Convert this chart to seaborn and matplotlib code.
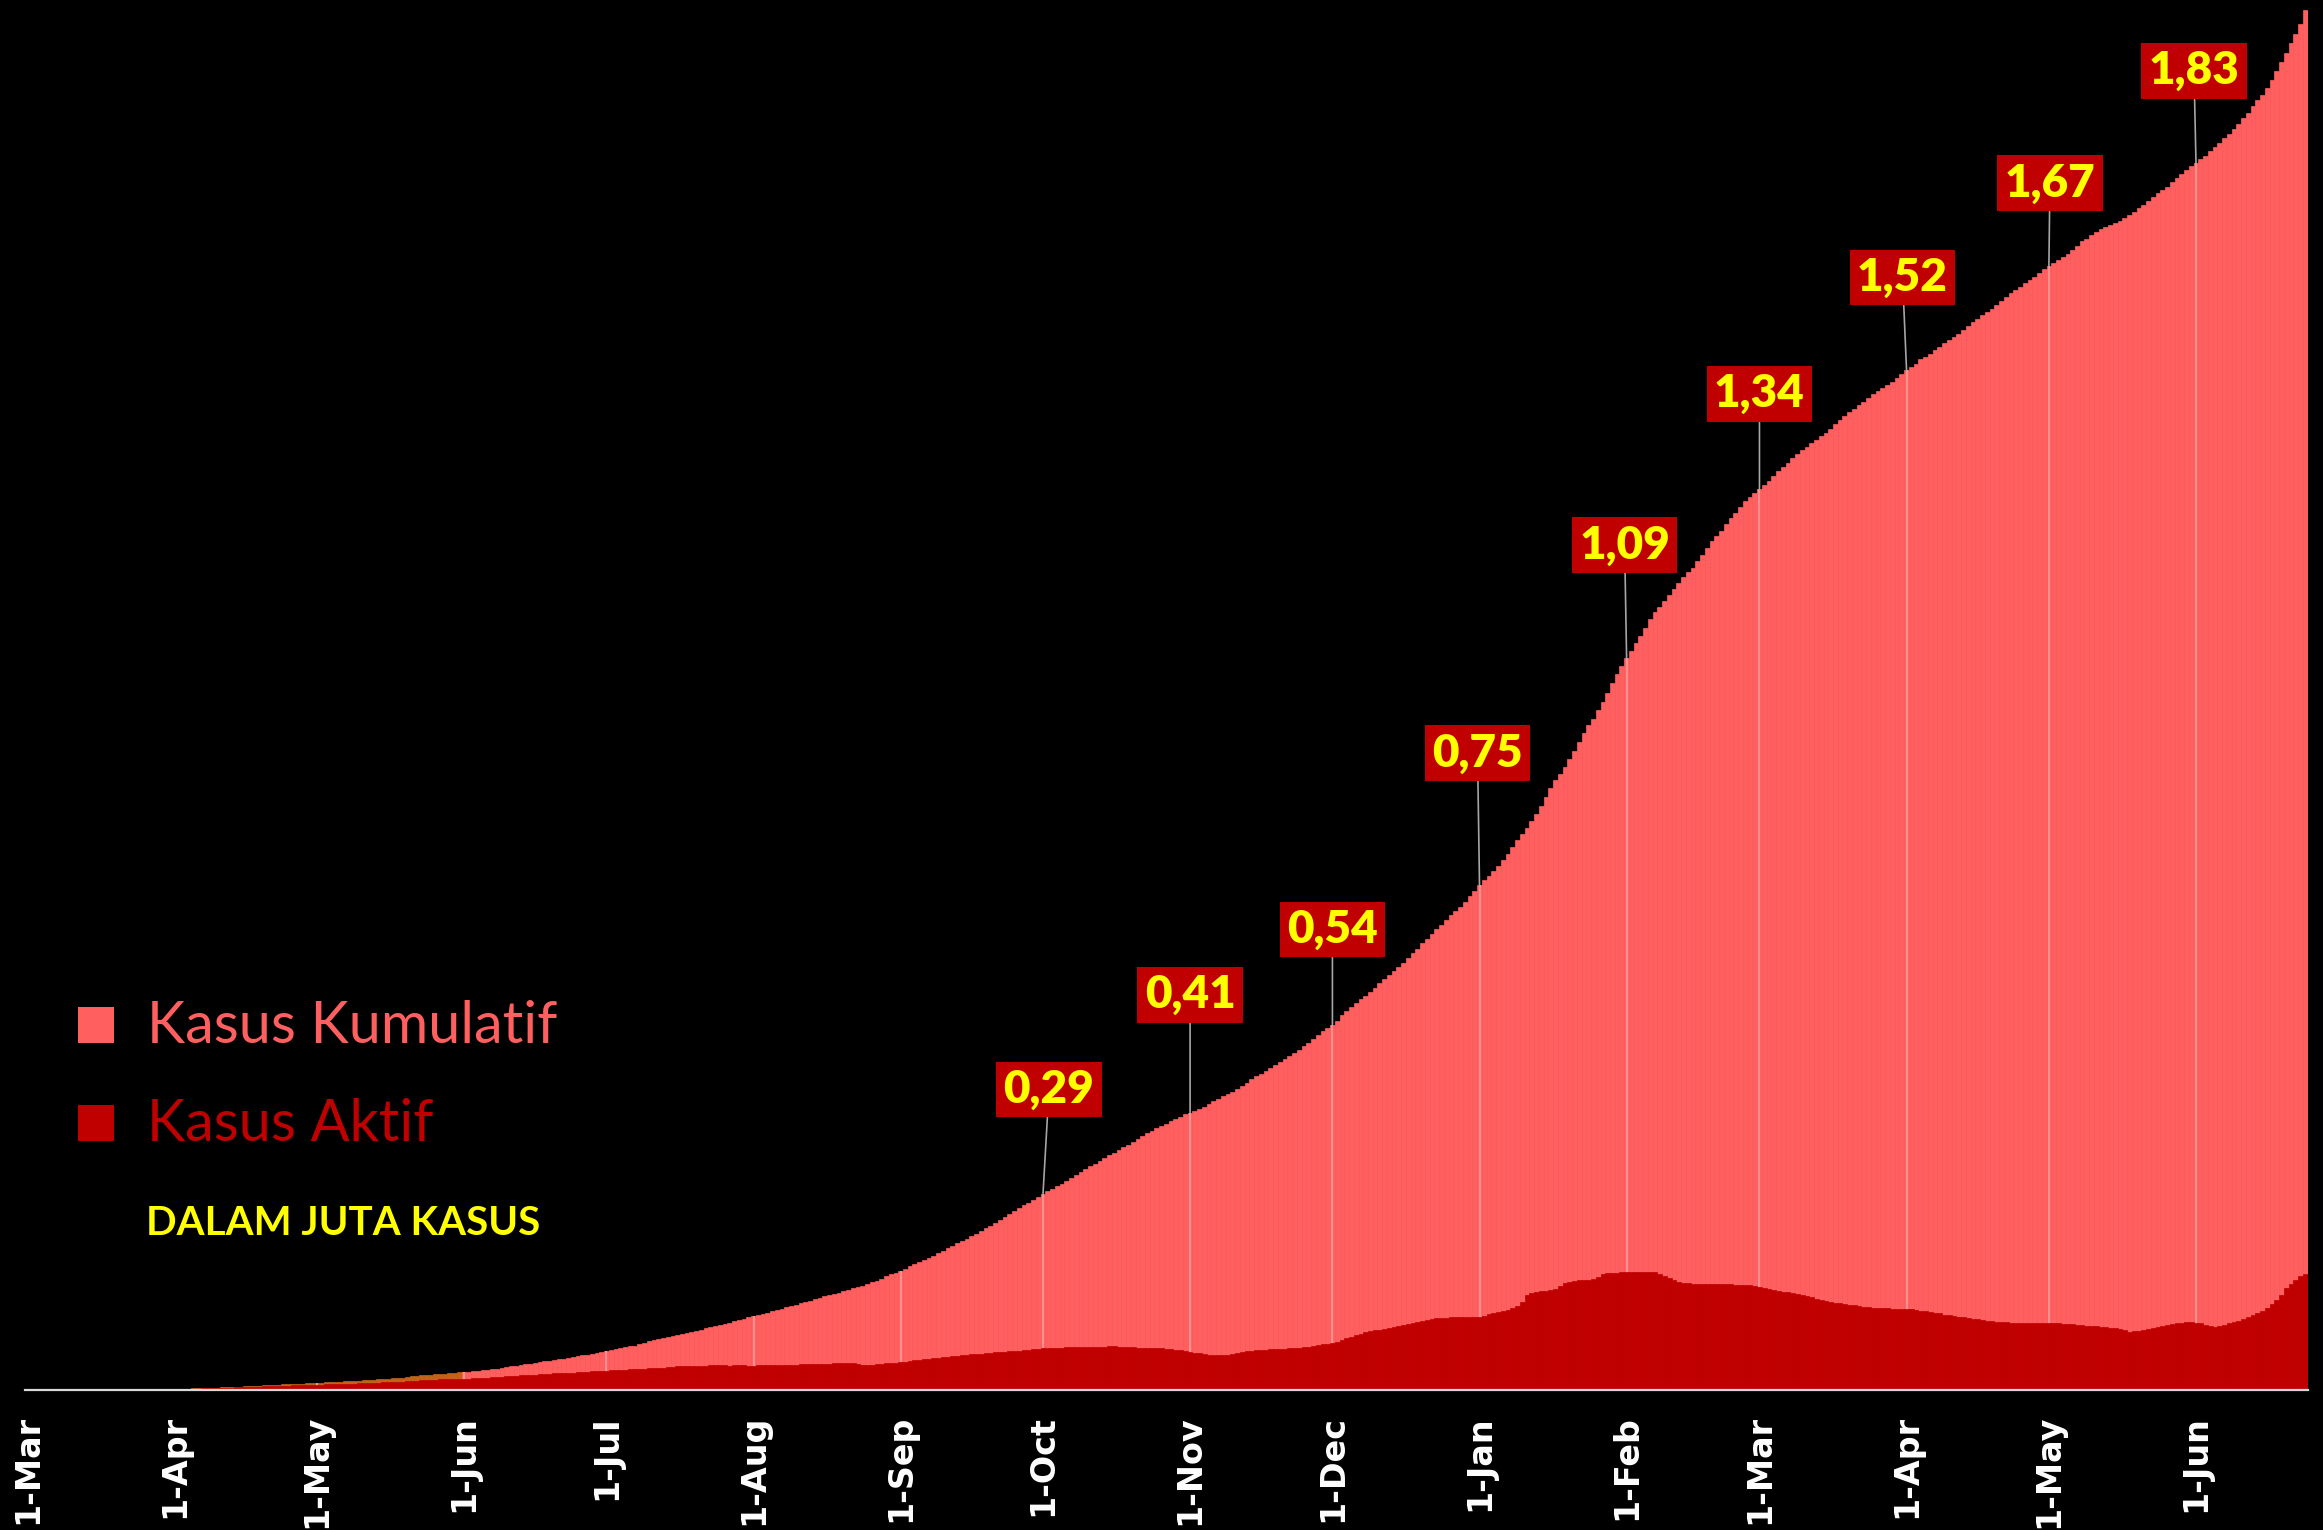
import numpy as np
import pandas as pd
import matplotlib
matplotlib.use("Agg")
import matplotlib.pyplot as plt
from matplotlib.patches import Rectangle
import seaborn as sns

# Kasus kumulatif harian (ribu), 1 Mar 2020 - 24 Jun 2021
KUM_2020_03 = [0, 0.002, 0.002, 0.002, 0.002, 0.004, 0.004, 0.006, 0.019, 0.027, 0.034, 0.034, 0.069, 0.096, 0.117, 0.134,
               0.172, 0.227, 0.309, 0.369, 0.450, 0.514, 0.579, 0.686, 0.790, 0.893, 1.046, 1.155, 1.285, 1.414, 1.528]
KUM_2020_04 = [1.7, 1.8, 2.0, 2.1, 2.3, 2.5, 2.7, 2.9, 3.3, 3.5, 3.8, 4.2, 4.6, 4.8, 5.1, 5.5, 5.9, 6.2, 6.6, 6.8,
               7.1, 7.4, 7.8, 8.2, 8.6, 8.9, 9.1, 9.5, 9.8, 10.1]
KUM_2020_05 = [10.6, 10.8, 11.2, 11.6, 12.1, 12.4, 12.8, 13.1, 13.6, 14.0, 14.3, 14.7, 15.4, 16.0, 16.5, 17.0, 17.5, 18.0,
               18.5, 19.2, 20.2, 20.8, 21.7, 22.3, 22.8, 23.2, 23.9, 24.5, 25.2, 25.8, 26.5]
KUM_2020_06 = [27.0, 27.5, 28.2, 28.8, 29.5, 30.5, 31.2, 32.0, 33.1, 34.3, 35.3, 36.4, 37.4, 38.3, 39.3, 40.4, 41.4, 42.8,
               43.8, 45.0, 45.9, 46.8, 47.9, 49.0, 50.2, 51.4, 52.8, 54.0, 55.1, 56.4]
KUM_2020_07 = [57.8, 59.4, 60.7, 62.1, 63.7, 64.9, 66.2, 68.1, 70.7, 72.3, 74.0, 75.7, 76.9, 78.6, 80.1, 81.7, 84.0, 85.0,
               86.5, 88.2, 89.9, 91.8, 93.7, 95.4, 97.3, 98.8, 100.3, 102.1, 104.4, 106.3, 108.4]
KUM_2020_08 = [109.9, 111.5, 113.1, 115.1, 116.9, 118.8, 121.2, 123.5, 125.4, 127.1, 128.8, 130.7, 132.8, 135.1, 137.5,
               139.5, 141.4, 143.0, 144.9, 147.2, 149.4, 151.5, 153.1, 155.4, 157.9, 160.2, 162.9, 165.9, 169.2, 172.1, 174.8]
KUM_2020_09 = [177.6, 180.6, 184.3, 187.5, 190.7, 194.1, 196.9, 200.0, 203.3, 207.2, 210.9, 214.7, 218.4, 221.5, 225.0,
               228.9, 232.6, 236.5, 240.7, 244.7, 248.9, 252.9, 257.4, 262.0, 266.8, 271.3, 275.2, 278.7, 282.7, 287.0]
KUM_2020_10 = [291.2, 295.5, 299.5, 304.0, 307.1, 311.2, 315.7, 320.6, 324.7, 328.9, 333.4, 336.7, 340.6, 344.7, 349.2,
               353.5, 357.8, 361.9, 365.2, 368.8, 373.1, 377.5, 381.9, 385.9, 389.7, 393.0, 396.5, 400.5, 404.0, 406.9, 410.1]
KUM_2020_11 = [412.8, 415.4, 418.4, 421.7, 425.8, 429.6, 433.8, 437.7, 440.6, 444.3, 448.1, 452.3, 457.7, 463.0, 467.1,
               470.6, 474.5, 478.7, 483.5, 488.3, 493.3, 497.7, 502.1, 506.3, 511.8, 516.8, 522.6, 527.9, 534.3, 538.9]
KUM_2020_12 = [543.9, 549.5, 557.9, 563.7, 569.7, 575.8, 581.6, 586.8, 592.9, 598.9, 605.2, 611.6, 617.8, 623.3, 629.4,
               636.2, 643.5, 650.2, 657.0, 664.9, 671.8, 678.1, 685.6, 692.8, 700.1, 706.8, 713.4, 719.2, 727.1, 735.1, 743.2]
KUM_2021_01 = [751.3, 758.5, 765.4, 772.1, 779.5, 788.4, 797.7, 808.3, 818.4, 828.0, 836.7, 846.8, 858.0, 869.6, 882.4,
               896.6, 907.9, 917.0, 927.4, 939.9, 951.7, 965.3, 977.5, 989.3, 999.3, 1012.4, 1024.3, 1037.0, 1051.8,
               1066.3, 1078.3]
KUM_2021_02 = [1089.3, 1099.7, 1111.7, 1123.1, 1134.9, 1147.0, 1157.8, 1166.1, 1174.8, 1183.6, 1191.9, 1201.9, 1210.7,
               1217.5, 1223.9, 1233.9, 1243.6, 1252.7, 1263.3, 1271.4, 1278.7, 1288.8, 1298.6, 1306.1, 1314.6, 1322.9,
               1329.1, 1334.6]
KUM_2021_03 = [1341.3, 1347.0, 1353.8, 1361.1, 1368.1, 1373.8, 1379.7, 1386.6, 1392.9, 1398.6, 1403.7, 1410.1, 1414.7,
               1419.5, 1425.0, 1430.4, 1437.3, 1443.9, 1450.1, 1455.8, 1460.2, 1465.9, 1471.2, 1476.5, 1482.6, 1487.5,
               1492.0, 1496.0, 1501.1, 1505.8, 1511.7]
KUM_2021_04 = [1517.7, 1523.2, 1527.5, 1534.3, 1537.3, 1542.5, 1547.4, 1552.9, 1558.1, 1562.9, 1566.9, 1571.8, 1577.5,
               1583.2, 1589.4, 1594.7, 1599.8, 1604.3, 1609.3, 1614.8, 1620.6, 1626.8, 1632.2, 1636.8, 1641.2, 1647.1,
               1651.8, 1657.0, 1662.9, 1668.4]
KUM_2021_05 = [1672.9, 1677.3, 1682.0, 1686.4, 1691.7, 1697.3, 1703.6, 1709.8, 1713.7, 1718.6, 1723.6, 1728.2, 1731.7,
               1734.3, 1736.7, 1739.8, 1744.0, 1748.9, 1753.1, 1758.9, 1764.6, 1769.9, 1775.2, 1781.8, 1786.2, 1791.2,
               1797.5, 1803.4, 1809.9, 1816.0, 1821.7]
KUM_2021_06 = [1826.5, 1831.8, 1837.1, 1843.6, 1850.2, 1856.0, 1863.8, 1869.3, 1877.0, 1885.0, 1894.0, 1901.5, 1911.4,
               1919.5, 1927.7, 1937.7, 1950.3, 1963.3, 1976.2, 1989.9, 2004.4, 2018.1, 2033.4, 2054.0]

# Kasus aktif harian (ribu)
AKT_2020_03 = [0, 0.002, 0.002, 0.002, 0.002, 0.004, 0.004, 0.006, 0.017, 0.025, 0.031, 0.031, 0.064, 0.087, 0.105, 0.119,
               0.153, 0.199, 0.275, 0.323, 0.396, 0.450, 0.498, 0.590, 0.671, 0.758, 0.899, 1.002, 1.114, 1.218, 1.311]
AKT_2020_04 = [1.4, 1.5, 1.7, 1.8, 1.9, 2.1, 2.3, 2.4, 2.7, 2.9, 3.1, 3.4, 3.7, 3.9, 4.1, 4.3, 4.6, 4.8, 5.1, 5.3,
               5.5, 5.7, 6.0, 6.3, 6.5, 6.7, 6.9, 7.1, 7.3, 7.4]
AKT_2020_05 = [7.8, 8.0, 8.2, 8.4, 8.7, 8.8, 9.0, 9.2, 9.5, 9.7, 9.9, 10.2, 10.6, 10.9, 11.3, 11.6, 11.8, 12.1, 12.5, 12.9,
               13.6, 14.0, 14.5, 14.9, 15.2, 15.4, 15.8, 16.1, 16.5, 16.7, 17.0]
AKT_2020_06 = [16.9, 17.0, 17.3, 17.6, 17.9, 18.4, 18.7, 19.2, 19.7, 20.3, 20.8, 21.3, 21.7, 22.0, 22.4, 22.9, 23.3, 23.9,
               24.2, 24.7, 25.0, 25.2, 25.6, 26.0, 26.4, 26.8, 27.3, 27.7, 27.9, 28.3]
AKT_2020_07 = [28.6, 29.2, 29.4, 29.8, 30.3, 30.7, 31.0, 31.4, 31.8, 32.1, 32.4, 32.8, 33.2, 33.8, 34.5, 35.2, 35.8, 36.1,
               36.3, 36.3, 36.4, 36.4, 36.5, 36.5, 36.6, 36.5, 36.4, 36.5, 36.6, 36.5, 36.4]
AKT_2020_08 = [36.4, 36.5, 36.6, 36.7, 36.8, 37.0, 37.2, 37.3, 37.6, 37.8, 38.0, 38.2, 38.5, 38.8, 39.0, 39.2, 39.4, 39.5,
               39.7, 39.9, 40.0, 40.1, 39.0, 37.5, 37.0, 37.2, 38.0, 38.8, 39.5, 40.2, 40.9]
AKT_2020_09 = [41.5, 42.3, 43.2, 44.0, 44.8, 45.6, 46.4, 47.2, 48.0, 48.8, 49.6, 50.4, 51.0, 51.7, 52.3, 52.9, 53.5, 54.1,
               54.7, 55.3, 55.9, 56.5, 57.0, 57.6, 58.1, 58.7, 59.3, 59.9, 60.5, 61.0]
AKT_2020_10 = [61.8, 62.2, 62.5, 62.8, 63.0, 63.3, 63.5, 63.6, 63.8, 64.0, 64.2, 64.3, 64.5, 64.6, 64.8, 65.0, 64.7, 64.2,
               63.8, 63.5, 63.2, 63.0, 62.8, 62.6, 62.4, 62.0, 61.5, 60.8, 59.8, 58.8, 57.8]
AKT_2020_11 = [56.8, 55.8, 54.6, 53.5, 52.8, 52.5, 52.4, 52.4, 52.6, 53.5, 55.5, 57.0, 58.0, 58.5, 59.0, 59.5, 60.0, 60.4,
               60.8, 61.2, 61.6, 62.0, 62.5, 63.0, 63.6, 64.5, 65.5, 66.8, 68.0, 69.0]
AKT_2020_12 = [70, 72, 74.5, 77, 79.5, 82, 84, 86, 87.5, 89, 90, 91, 92, 93.5, 95, 96.5, 98, 99.5, 101, 102.5,
               104, 105.5, 107, 107.5, 107.8, 108, 108, 108.2, 108.3, 108.5, 108.7]
AKT_2021_01 = [109, 110.5, 112.5, 114, 115.5, 117, 119, 122, 125, 131, 142, 144, 145.5, 147, 148, 149, 151, 155, 159, 161,
               162, 163, 163.5, 164, 164.5, 168, 172, 173.5, 174, 174.5, 175]
AKT_2021_02 = [175, 175.5, 176, 176, 176.2, 176, 175.5, 173, 170, 167, 163, 161, 160, 159, 158, 158, 158, 158, 158, 158.2,
               158, 157.5, 157.2, 157, 157, 156.5, 156, 155]
AKT_2021_03 = [154, 152, 150, 148.5, 147.5, 146.5, 145.5, 144.5, 143, 141.5, 140, 138, 136, 134, 132.5, 131, 130, 129,
               128, 127, 126, 125, 123.5, 123, 122.5, 122, 121.8, 121.5, 121.3, 121.1, 121]
AKT_2021_04 = [120.5, 120, 119, 118, 117, 116, 115, 114, 112, 111, 110, 109, 108, 107, 106, 105, 104, 103, 102, 101.5,
               101, 100.5, 100.2, 100, 100, 100, 100, 100, 100, 100]
AKT_2021_05 = [100, 99.5, 99, 98.5, 98, 97.5, 97, 96.8, 96, 95.5, 95, 94, 93.5, 92.5, 92, 91, 89, 87, 87.5, 88.5,
               90, 91.5, 92.5, 94, 95, 96.5, 98, 99, 100, 101, 101.5]
AKT_2021_06 = [100, 99, 97, 95, 94, 95, 97, 99, 101, 103, 106, 109, 111, 115, 118, 122, 128, 134, 142, 152,
               158, 164, 170, 172]

START = "2020-03-01"
ORANGE_UNTIL = "2020-06-01"
LABEL_MONTHS = ["2020-10-01", "2020-11-01", "2020-12-01", "2021-01-01", "2021-02-01",
                "2021-03-01", "2021-04-01", "2021-05-01", "2021-06-01"]
# posisi kotak label relatif ke titik (piksel)
LABEL_DX = [6, 0, 0, -2, -2, 0, -4, 1, -2]
LABEL_DY = [105, 118, 95, 132, 113, 95, 93, 83, 92]

SALMON = "#FF5F5F"
DARK = "#C00000"
ORANGE = "#C5621A"
STRIPE = "#FF8F8F"
YELLOW = "#FFFF00"

W, H = 2323, 1530
PX_PER_JUTA = 671.8
BASE_Y = 1390

kumulatif = np.array(KUM_2020_03 + KUM_2020_04 + KUM_2020_05 + KUM_2020_06 + KUM_2020_07 + KUM_2020_08 +
                     KUM_2020_09 + KUM_2020_10 + KUM_2020_11 + KUM_2020_12 + KUM_2021_01 + KUM_2021_02 +
                     KUM_2021_03 + KUM_2021_04 + KUM_2021_05 + KUM_2021_06) / 1000.0
aktif = np.array(AKT_2020_03 + AKT_2020_04 + AKT_2020_05 + AKT_2020_06 + AKT_2020_07 + AKT_2020_08 +
                 AKT_2020_09 + AKT_2020_10 + AKT_2020_11 + AKT_2020_12 + AKT_2021_01 + AKT_2021_02 +
                 AKT_2021_03 + AKT_2021_04 + AKT_2021_05 + AKT_2021_06) / 1000.0

dates = pd.date_range(START, periods=len(kumulatif), freq="D")
df = pd.DataFrame({"hari": np.arange(len(dates)), "tanggal": dates,
                   "kumulatif": kumulatif, "aktif": aktif})
df["fase"] = np.where(df["tanggal"] < pd.Timestamp(ORANGE_UNTIL), "awal", "lanjut")

sns.set_theme(style="dark", rc={"axes.facecolor": "black", "figure.facecolor": "black"})

fig = plt.figure(figsize=(W / 100, H / 100), dpi=100)
ax = fig.add_axes([25.2 / W, (H - BASE_Y) / H, (2307.5 - 25.2) / W, BASE_Y / H])
ax.set_facecolor("black")

sns.barplot(data=df, x="hari", y="kumulatif", hue="fase", palette={"awal": ORANGE, "lanjut": SALMON},
            native_scale=True, width=1.0, dodge=False, errorbar=None, legend=False,
            saturation=1, linewidth=0, ax=ax)
n_kum = len(ax.patches)
sns.barplot(data=df, x="hari", y="aktif", color=DARK, native_scale=True, width=1.0,
            errorbar=None, saturation=1, linewidth=0, ax=ax)

for i, p in enumerate(ax.patches):
    p.set_edgecolor(p.get_facecolor())
    p.set_linewidth(0.5)
    p.set_zorder(2 if i >= n_kum else 1)

month_start = df[df["tanggal"].dt.day == 1]
ax.vlines(month_start["hari"], 0, month_start["kumulatif"], colors=STRIPE, lw=1.6, zorder=1.5)

ax.set_xlim(-0.5, len(df) - 0.5)
ax.set_ylim(0, BASE_Y / PX_PER_JUTA)
ax.set_xlabel("")
ax.set_ylabel("")
ax.set_yticks([])
ax.set_xticks(month_start["hari"])
ax.set_xticklabels(["1-" + d.strftime("%b") for d in month_start["tanggal"]],
                   rotation=90, fontsize=24, fontweight="bold", color="white", family="DejaVu Sans")
ax.tick_params(axis="x", length=0, pad=18)
ax.grid(False)
for side in ["left", "right", "top"]:
    ax.spines[side].set_visible(False)
ax.spines["bottom"].set_color("#D9D9D9")
ax.spines["bottom"].set_linewidth(1.6)
ax.spines["bottom"].set_zorder(3)

# label juta kasus di awal bulan
for m, dx, dy in zip(LABEL_MONTHS, LABEL_DX, LABEL_DY):
    row = df[df["tanggal"] == pd.Timestamp(m)].iloc[0]
    txt = f"{row['kumulatif']:.2f}".replace(".", ",")
    ax.annotate(txt, xy=(row["hari"], row["kumulatif"]), xytext=(dx * 0.72, dy * 0.72),
                textcoords="offset points", ha="center", va="center",
                fontsize=33, fontweight="heavy", family="Lato", color=YELLOW, zorder=5,
                bbox=dict(boxstyle="square,pad=0.16", fc=DARK, ec="none"),
                arrowprops=dict(arrowstyle="-", color="#A6A6A6", lw=1.2, shrinkA=0, shrinkB=0))

# legenda manual
for y_top, col, label in [(1007, SALMON, "Kasus Kumulatif"), (1105, DARK, "Kasus Aktif")]:
    fig.patches.append(Rectangle((78 / W, 1 - (y_top + 36) / H), 36 / W, 36 / H,
                                 transform=fig.transFigure, fc=col, ec="none"))
    fig.text(147 / W, 1 - (y_top + 36) / H, label, fontsize=41.5, family="Lato", color=col,
             ha="left", va="baseline")
fig.text(146 / W, 1 - 1235 / H, "DALAM JUTA KASUS", fontsize=29, family="Lato", fontweight="bold",
         color=YELLOW, ha="left", va="baseline")

fig.savefig("out.png", dpi=100, facecolor="black")
